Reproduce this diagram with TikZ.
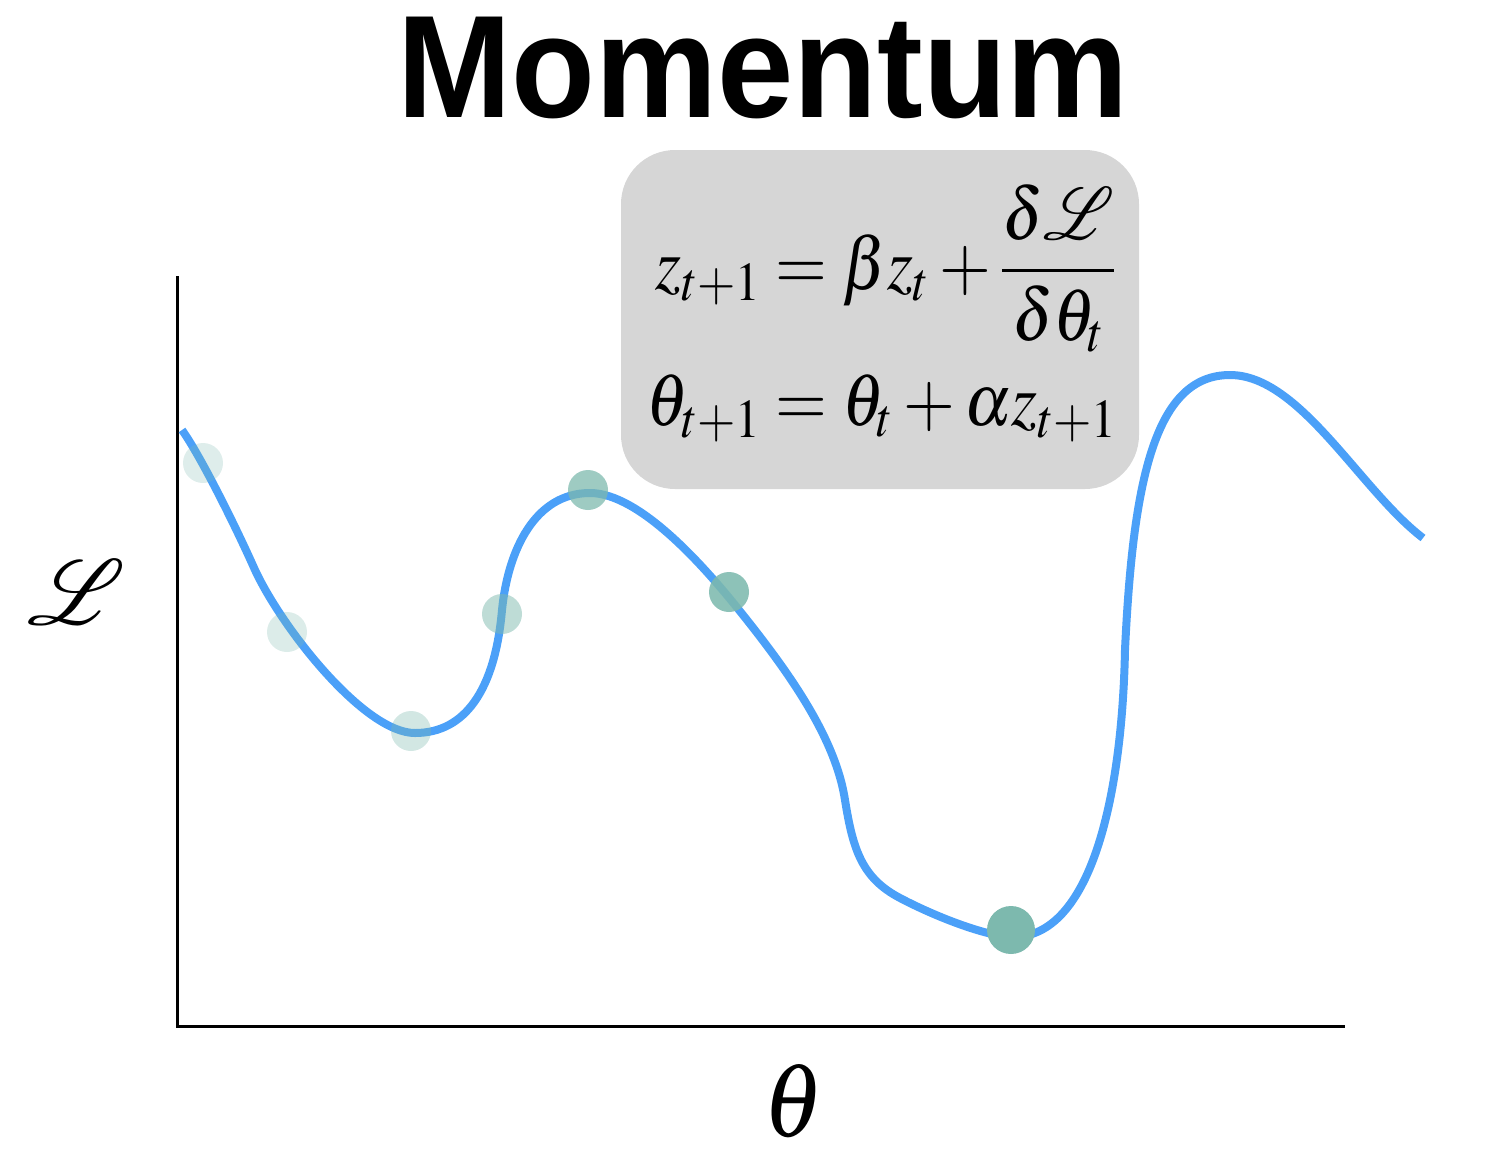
\documentclass[tikz,border=0pt]{standalone}
\usepackage{amsmath}
\usepackage{mathptmx}
\usepackage{fontspec}
\newfontfamily\titlefont{Liberation Sans}
\DeclareFontFamily{U}{myrsfs}{\skewchar\font127 }
\DeclareFontShape{U}{myrsfs}{m}{n}{<-6> rsfs5 <6-8> rsfs7 <8-> rsfs10}{}
\DeclareMathAlphabet{\myscr}{U}{myrsfs}{m}{n}
\definecolor{curveblue}{HTML}{4BA0F8}
\definecolor{dotteal}{HTML}{7DB9AE}
\definecolor{boxgray}{HTML}{D6D6D6}
\tikzset{
  axis/.style={line width=1.5pt, black},
  losscurve/.style={line width=4pt, curveblue},
  ball/.style={circle, fill=dotteal, inner sep=0pt, minimum size=20pt},
  eqbox/.style={rectangle, rounded corners=27pt, fill=boxgray, inner sep=0pt},
}
\begin{document}
\begin{tikzpicture}[x=0.5pt,y=-0.5pt]
\useasboundingbox (0,0) rectangle (1496,1164);
% title
\node (title) at (763,68) {\titlefont\bfseries\fontsize{73}{80}\selectfont\scalebox{0.94}[1]{Momentum}};
% axes
\coordinate (origin) at (177,1026);
\coordinate (ytop) at (177,276);
\coordinate (xend) at (1345,1026);
\draw[axis] (ytop) -- (origin) -- (xend);
\node (ylabel) at (77,592) {\fontsize{46}{50}\selectfont$\myscr{L}$};
\node (xlabel) at (794,1101) {\fontsize{50}{54}\selectfont\scalebox{0.95}[1.05]{$\theta$}};
% equation box
\node[eqbox, minimum width=259pt, minimum height=169.5pt] (box) at (880,319.5) {};
\node (eq) at (882,317) {\fontsize{37}{40}\selectfont\scalebox{0.9}[1]{$\begin{aligned}
z_{t+1} &= \beta z_t + \frac{\delta\myscr{L}}{\delta\theta_t}\\[5pt]
\theta_{t+1} &= \theta_t + \alpha z_{t+1}
\end{aligned}$}};
% curve
\draw[losscurve] (182,430) .. controls (200,455) and (235,525) .. (255,570)
 .. controls (283,630) and (365,733) .. (415,733)
 .. controls (465,733) and (495,690) .. (502,610)
 .. controls (508,550) and (535,493) .. (590,493)
 .. controls (640,493) and (705,568) .. (735,605)
 .. controls (785,667) and (835,735) .. (845,800)
 .. controls (853,850) and (862,878) .. (900,898)
 .. controls (940,919) and (990,937) .. (1013,937)
 .. controls (1090,937) and (1122,800) .. (1125,650)
 .. controls (1133,480) and (1155,375) .. (1230,375)
 .. controls (1300,375) and (1360,490) .. (1423,538);
% balls
\node[ball, opacity=0.25] (b1) at (203,463) {};
\node[ball, opacity=0.27] (b2) at (287,632) {};
\node[ball, opacity=0.35] (b3) at (411,731) {};
\node[ball, opacity=0.5] (b4) at (502,614) {};
\node[ball, opacity=0.75] (b5) at (588,490) {};
\node[ball, opacity=0.88] (b6) at (729,592) {};
\node[ball, minimum size=24pt] (b7) at (1011,930) {};
\end{tikzpicture}
\end{document}
